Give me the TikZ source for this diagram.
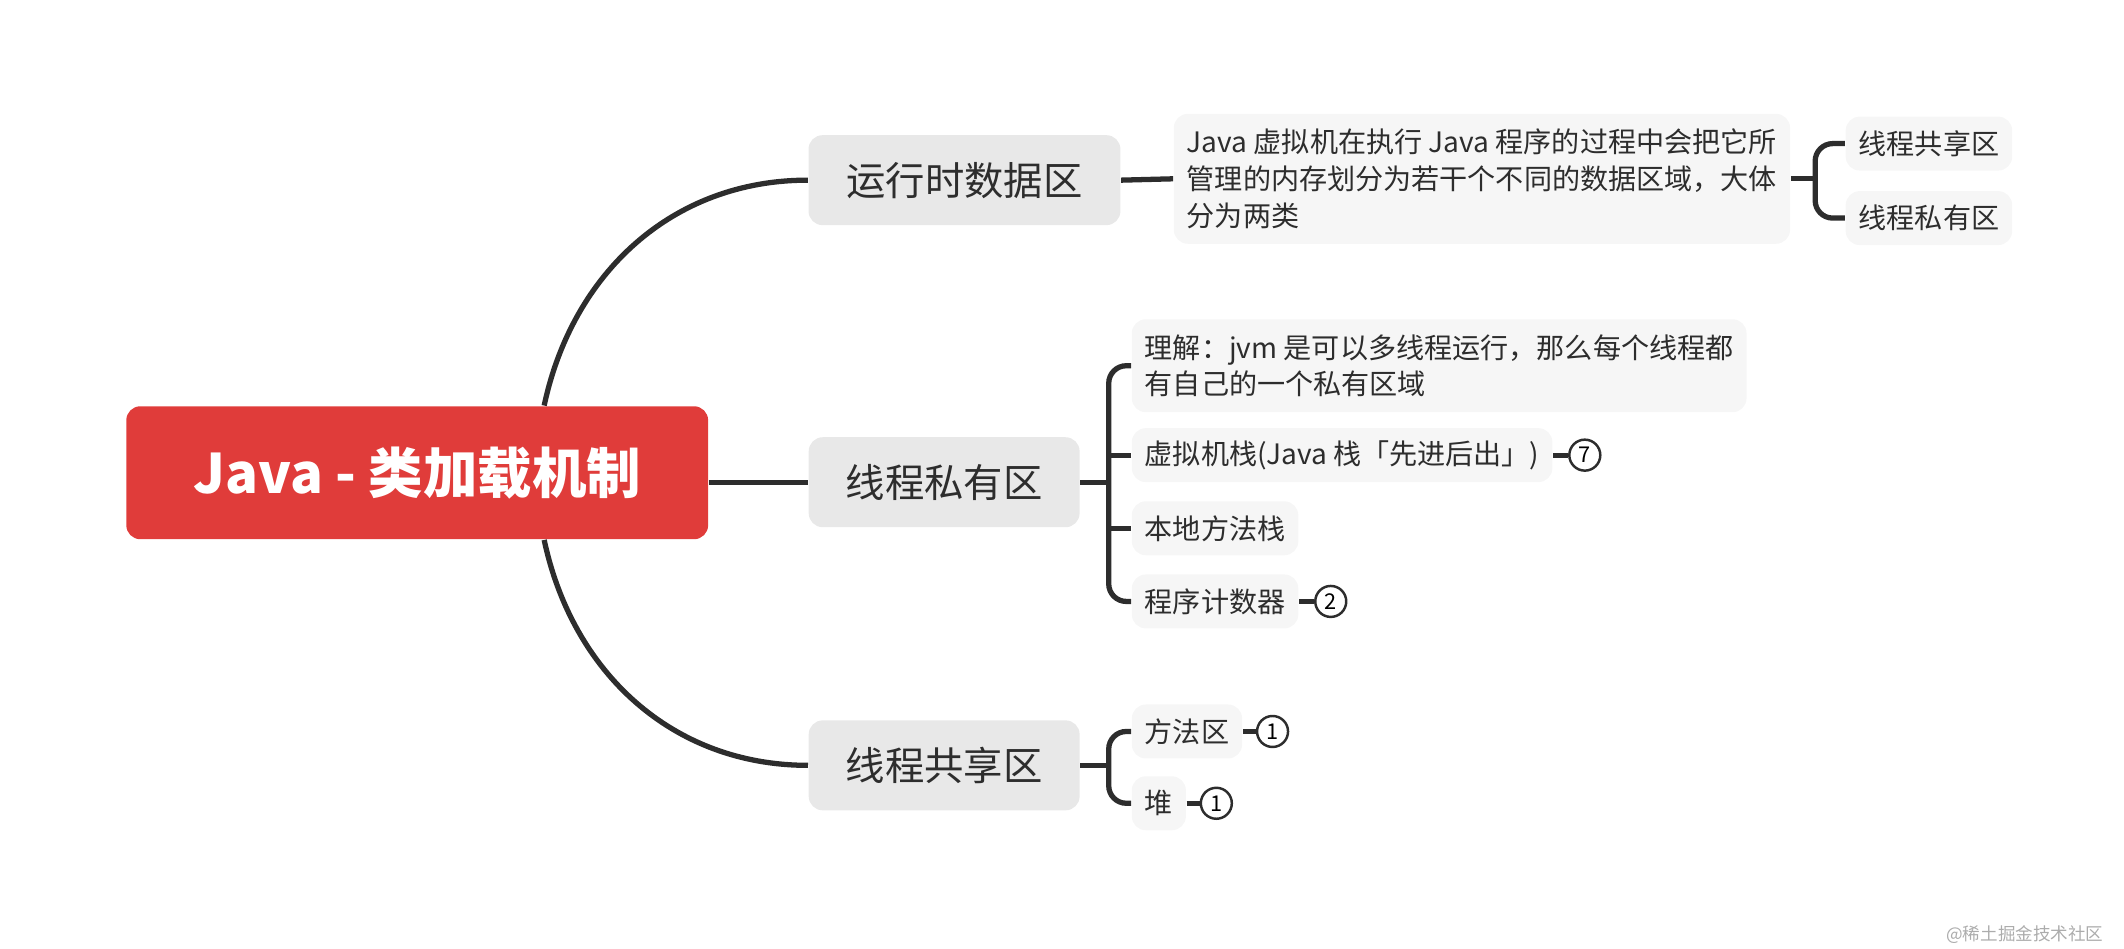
\documentclass[tikz,border=0pt]{standalone}
\usepackage{fontspec}
\setmainfont{Noto Sans CJK SC}
\usetikzlibrary{calc,positioning}

\definecolor{rootred}{RGB}{224,60,58}
\definecolor{topicgray}{RGB}{232,232,232}
\definecolor{leafgray}{RGB}{246,246,246}
\definecolor{inkgray}{RGB}{45,45,45}

\begin{document}
\begin{tikzpicture}[
  x=0.013546cm, y=-0.013546cm,
  link/.style      = {draw=inkgray, line width=1.5pt},
  twig/.style      = {link, rounded corners=5pt},
  rootbox/.style   = {fill=rootred, rounded corners=4pt, text=white,
                      minimum width=5.82cm, minimum height=1.33cm,
                      font=\bfseries\fontsize{15.5}{18}\selectfont},
  topic/.style     = {fill=topicgray, rounded corners=4pt, text=inkgray,
                      minimum height=0.9cm, font=\fontsize{11.2}{13}\selectfont},
  leaf/.style      = {fill=leafgray, rounded corners=4pt, text=inkgray, anchor=west,
                      minimum height=0.54cm, inner xsep=0.13cm, align=left,
                      font=\fontsize{8}{10.4}\selectfont},
  badge/.style     = {circle, draw=inkgray, line width=0.7pt, fill=white,
                      minimum size=0.31cm, inner sep=0pt, font=\fontsize{6.2}{6}\selectfont},
  watermark/.style = {text=gray!65, font=\fontsize{5}{6}\selectfont},
]
\useasboundingbox (0,0) rectangle (1568,700);

%% ------------------------------------------------------------------ ROOT + TOPICS
\node[rootbox] (root) at (308,349) {Java - 类加载机制};

\node[topic, minimum width=3.12cm] (rt)     at (712,133) {运行时数据区};
\node[topic, minimum width=2.71cm] (priv)   at (697,356) {线程私有区};
\node[topic, minimum width=2.71cm] (shared) at (697,565) {线程共享区};

\draw[link] ([xshift=1.27cm]root.north) to[out=78,in=180] (rt.west);
\draw[link] (priv.west -| root.east) -- (priv.west);
\draw[link] ([xshift=1.27cm]root.south) to[out=-78,in=180] (shared.west);

%% ------------------------------------------------------------------ RUNTIME DATA AREA
\node[leaf, minimum height=1.30cm] (rtdesc) at (866,132)
  {Java 虚拟机在执行 Java 程序的过程中会把它所\\
   管理的内存划分为若干个不同的数据区域，大体\\
   分为两类};
\node[leaf] (rtshared) at (1362,106) {线程共享区};
\node[leaf] (rtpriv)   at (1362,161) {线程私有区};

\draw[link] (rt.east) -- (rtdesc.west);
\coordinate (rtfork) at ([xshift=0.244cm]rtdesc.east);
\draw[link] (rtdesc.east) -- (rtfork);
\draw[twig] (rtshared.west) -| (rtfork) |- (rtpriv.west);

%% ------------------------------------------------------------------ THREAD PRIVATE
\node[leaf, minimum height=0.93cm] (understand) at (835,270)
  {理解：jvm 是可以多线程运行，那么每个线程都\\
   有自己的一个私有区域};
\node[leaf] (vmstack)     at (835,336) {虚拟机栈(Java 栈「先进后出」)};
\node[leaf] (nativestack) at (835,390) {本地方法栈};
\node[leaf] (pc)          at (835,444) {程序计数器};

\coordinate (privfork) at ([xshift=0.284cm]priv.east);
\draw[link] (priv.east) -- (privfork);
\draw[twig] (understand.west) -| (privfork) |- (pc.west);
\draw[link] (vmstack.west) -- (vmstack.west -| privfork);
\draw[link] (nativestack.west) -- (nativestack.west -| privfork);

\node[badge, right=0.15cm of vmstack] (vmnum) {7};
\node[badge, right=0.15cm of pc]      (pcnum) {2};
\draw[link] (vmstack.east) -- (vmnum.west);
\draw[link] (pc.east) -- (pcnum.west);

%% ------------------------------------------------------------------ THREAD SHARED
\node[leaf] (method) at (835,540) {方法区};
\node[leaf] (heap)   at (835,593) {堆};

\coordinate (sharedfork) at ([xshift=0.284cm]shared.east);
\draw[link] (shared.east) -- (sharedfork);
\draw[twig] (method.west) -| (sharedfork) |- (heap.west);

\node[badge, right=0.13cm of method] (methodnum) {1};
\node[badge, right=0.13cm of heap]   (heapnum)   {1};
\draw[link] (method.east) -- (methodnum.west);
\draw[link] (heap.east) -- (heapnum.west);

\node[watermark, anchor=east] (credit) at (1562,690) {@稀土掘金技术社区};

\end{tikzpicture}
\end{document}
